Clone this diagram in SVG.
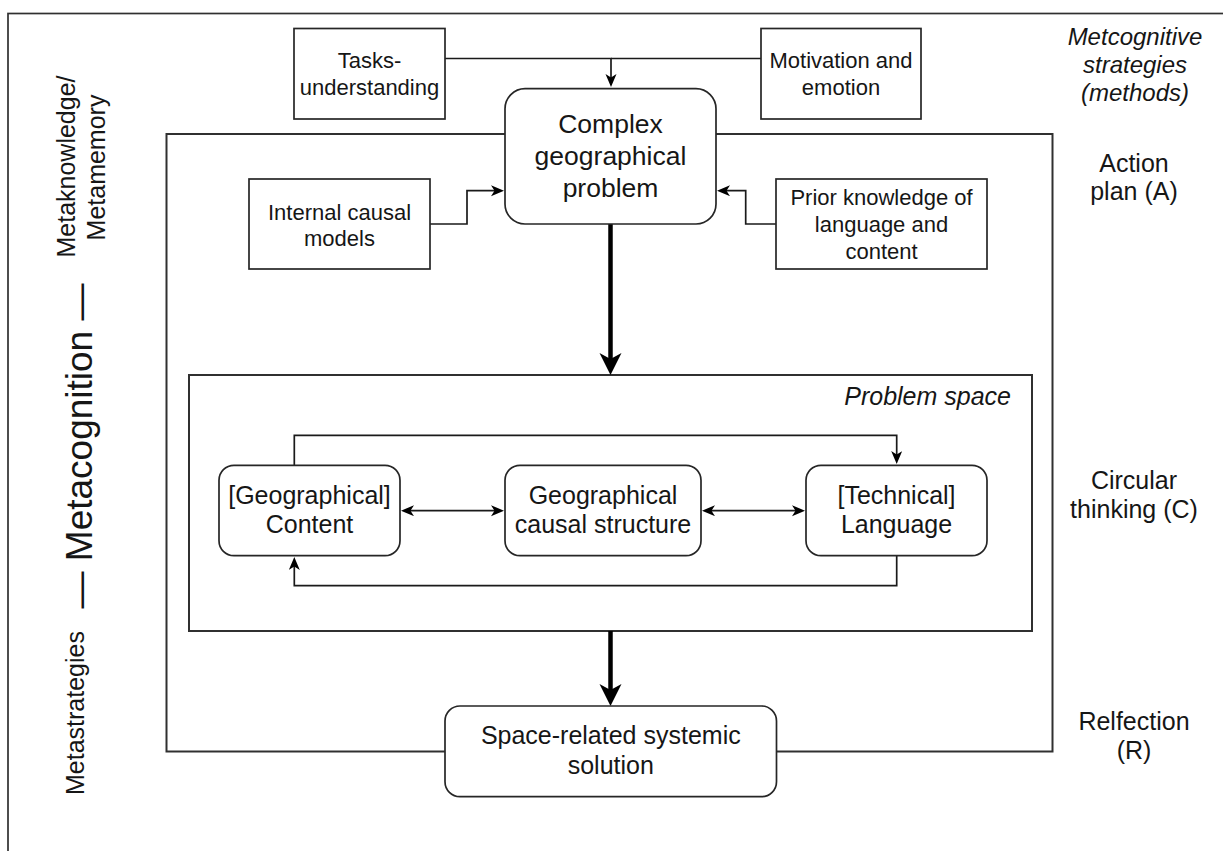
<svg xmlns="http://www.w3.org/2000/svg" width="1223" height="851" viewBox="0 0 1223 851">
<style>
text{font-family:"Liberation Sans",Arial,Helvetica,sans-serif;fill:#161616;text-anchor:middle}
.box{fill:#fff;stroke:#262626;stroke-width:1.7}
.frame{fill:none;stroke:#303030;stroke-width:2}
.thin{fill:none;stroke:#1a1a1a;stroke-width:1.7}
.thick{fill:none;stroke:#000;stroke-width:4.5}
.s22{font-size:22px}
.s25{font-size:25px}
.s26{font-size:26.5px}
.it{font-style:italic}
</style>
<defs>
<marker id="ah" markerUnits="userSpaceOnUse" markerWidth="14" markerHeight="12" refX="9" refY="5.5" orient="auto-start-reverse" viewBox="0 0 14 12">
<path d="M0,0 L13,5.5 L0,11 L3.5,5.5 Z" fill="#000"/>
</marker>
<marker id="ahT" markerUnits="userSpaceOnUse" markerWidth="24" markerHeight="24" refX="10" refY="11" orient="auto" viewBox="0 0 24 24">
<path d="M0,0 L22,11 L0,22 L6,11 Z" fill="#000"/>
</marker>
</defs>

<!-- outer frame -->
<rect x="8" y="13.5" width="1240" height="870" fill="none" stroke="#303030" stroke-width="1.7"/>

<!-- side labels -->
<g id="left-labels">
<text class="s25" transform="translate(75,166.5) rotate(-90)">Metaknowledge/</text>
<text class="s25" transform="translate(105,167.5) rotate(-90)">Metamemory</text>
<text style="font-size:37px" transform="translate(92,446) rotate(-90)">— Metacognition —</text>
<text class="s25" transform="translate(84,713) rotate(-90)">Metastrategies</text>
</g>
<g id="right-labels">
<text class="it" style="font-size:24px" x="1135" y="45">Metcognitive</text>
<text class="it" style="font-size:24px" x="1135" y="73">strategies</text>
<text class="it" style="font-size:24px" x="1135" y="101">(methods)</text>
<text class="s25" x="1134" y="172">Action</text>
<text class="s25" x="1134" y="200">plan (A)</text>
<text class="s25" x="1134" y="489">Circular</text>
<text class="s25" x="1134" y="518">thinking (C)</text>
<text class="s25" x="1134" y="729.5">Relfection</text>
<text class="s25" x="1134" y="758.5">(R)</text>
</g>

<!-- containers -->
<g id="action-plan">
<rect class="frame" x="166.5" y="134" width="886" height="617.5"/>
</g>
<g id="problem-space">
<rect class="frame" x="189" y="375" width="843" height="256"/>
<text class="s25 it" x="1011" y="405" style="text-anchor:end">Problem space</text>
</g>

<!-- connectors -->
<g id="connectors">
<path class="thin" d="M445,58.5 H611 V83" marker-end="url(#ah)"/>
<path class="thin" d="M761,58.5 H611"/>
<path class="thin" d="M430,224 H467 V190.7 H500" marker-end="url(#ah)"/>
<path class="thin" d="M776,224 H745.7 V190.7 H721" marker-end="url(#ah)"/>
<path class="thick" d="M610.5,224 V363" marker-end="url(#ahT)"/>
<path class="thick" d="M610.5,631 V694" marker-end="url(#ahT)"/>
<path class="thin" d="M405,510.7 H500" marker-start="url(#ah)" marker-end="url(#ah)"/>
<path class="thin" d="M706,510.7 H801" marker-start="url(#ah)" marker-end="url(#ah)"/>
<path class="thin" d="M294.3,465.3 V435.3 H896.7 V460" marker-end="url(#ah)"/>
<path class="thin" d="M896.7,555.7 V585.7 H294.3 V561" marker-end="url(#ah)"/>
</g>

<!-- nodes -->
<g id="tasks">
<rect class="box" x="294" y="28.5" width="151" height="90.5"/>
<text class="s22" x="369.5" y="68.3">Tasks-</text>
<text class="s22" x="369.5" y="95">understanding</text>
</g>
<g id="motivation">
<rect class="box" x="761" y="28.5" width="160" height="90.5"/>
<text class="s22" x="841" y="68.3">Motivation and</text>
<text class="s22" x="841" y="95">emotion</text>
</g>
<g id="complex-problem">
<rect class="box" x="505" y="88.7" width="211" height="135.3" rx="20" ry="20"/>
<text class="s26" x="610.5" y="133.3">Complex</text>
<text class="s26" x="610.5" y="165">geographical</text>
<text class="s26" x="610.5" y="196.7">problem</text>
</g>
<g id="internal-models">
<rect class="box" x="249" y="179" width="181" height="90"/>
<text class="s22" x="339.5" y="219.5">Internal causal</text>
<text class="s22" x="339.5" y="246">models</text>
</g>
<g id="prior-knowledge">
<rect class="box" x="776" y="179" width="211" height="90"/>
<text class="s22" x="881.5" y="205">Prior knowledge of</text>
<text class="s22" x="881.5" y="232">language and</text>
<text class="s22" x="881.5" y="259">content</text>
</g>
<g id="content">
<rect class="box" x="219" y="465.3" width="181" height="90.4" rx="15" ry="15"/>
<text class="s25" x="309.5" y="504">[Geographical]</text>
<text class="s25" x="309.5" y="533">Content</text>
</g>
<g id="causal-structure">
<rect class="box" x="505" y="465.3" width="196" height="90.4" rx="15" ry="15"/>
<text class="s25" x="603" y="504">Geographical</text>
<text class="s25" x="603" y="533">causal structure</text>
</g>
<g id="language">
<rect class="box" x="806" y="465.3" width="181" height="90.4" rx="15" ry="15"/>
<text class="s25" x="896.5" y="504">[Technical]</text>
<text class="s25" x="896.5" y="533">Language</text>
</g>
<g id="solution">
<rect class="box" x="445" y="706" width="331.5" height="90.7" rx="15" ry="15"/>
<text class="s25" x="610.8" y="744">Space-related systemic</text>
<text class="s25" x="610.8" y="774">solution</text>
</g>
</svg>
